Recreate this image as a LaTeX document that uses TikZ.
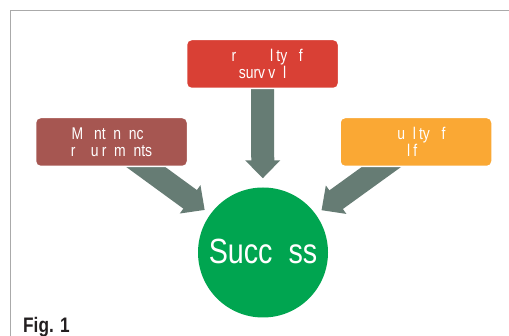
\documentclass[tikz,border=0pt]{standalone}
\usepackage{fontspec}
\setmainfont{Liberation Sans}[FakeStretch=0.82]
\usetikzlibrary{arrows.meta,backgrounds}
\definecolor{probred}{HTML}{D94035}
\definecolor{maintbrown}{HTML}{A65651}
\definecolor{qualorange}{HTML}{FAA834}
\definecolor{succgreen}{HTML}{00A550}
\definecolor{flowgray}{HTML}{667C74}
\definecolor{framegray}{HTML}{AAAAAA}
\definecolor{figblack}{HTML}{231F20}
\tikzset{
  goalbox/.style={rectangle,rounded corners=5pt,draw=white,line width=1.5pt,
    minimum width=152pt,minimum height=49pt,inner sep=0pt,align=center,
    text=white,font=\fontsize{17}{16.5}\selectfont},
  flow/.style={draw=flowgray,line width=23pt,-{Triangle[width=34pt,length=18pt]}}
}
\begin{document}
\begin{tikzpicture}[x=1pt,y=-1pt]
 \useasboundingbox (0,0) rectangle (509,336);
 \draw[framegray,line width=1pt] (10,336)--(10,11)--(509,11);
 % the three factors
 \node[goalbox,fill=probred] (prob) at (262.5,64)
   {\hphantom{P}r\hphantom{obabi}l\hphantom{i}ty \hphantom{o}f\\surv\hphantom{i}v\hphantom{a}l};
 \node[goalbox,fill=maintbrown] (maint) at (111.5,142)
   {M\hphantom{ai}nt\hphantom{e}n\hphantom{a}nc\hphantom{e}\\r\hphantom{eq}u\hphantom{i}r\hphantom{e}m\hphantom{e}nts};
 \node[goalbox,fill=qualorange] (qual) at (416,142)
   {\hphantom{Q}u\hphantom{a}l\hphantom{i}ty \hphantom{o}f\\l\hphantom{i}f\hphantom{e}};
 % the goal
 \node[circle,fill=succgreen,minimum size=130pt,inner sep=0pt,text=white,
   font=\fontsize{35}{40}\selectfont] (succ) at (263,252.5)
   {\raisebox{1.5pt}{Succ\hphantom{e}ss}};
 \node[anchor=base west,inner sep=0pt,text=figblack,
   font=\bfseries\fontsize{21}{21}\selectfont] (fig) at (23,333) {Fig. 1};
 % arrows under the boxes
 \begin{scope}[on background layer]
  \fill[white] (0,0) rectangle (509,336);
  \draw[flow,shorten >=9pt] (prob.center)--(succ);
  \draw[flow,shorten >=7pt] (maint.center)--(succ);
  \draw[flow,shorten >=7pt] (qual.center)--(succ);
 \end{scope}
\end{tikzpicture}
\end{document}
